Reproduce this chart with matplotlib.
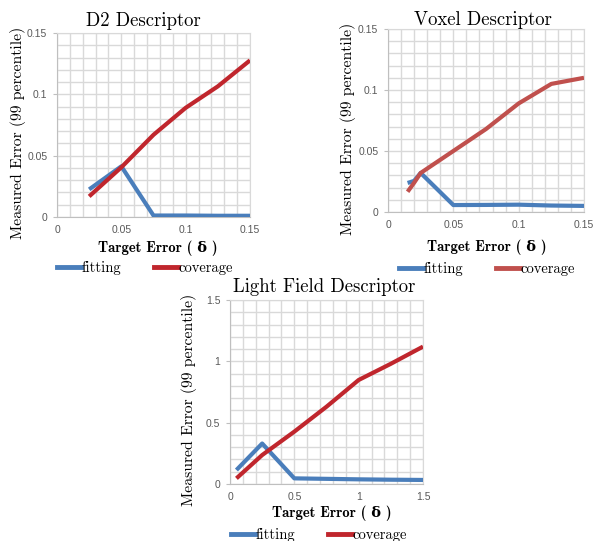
import matplotlib
matplotlib.use("Agg")
import matplotlib.pyplot as plt
from matplotlib.ticker import MultipleLocator, FuncFormatter
from matplotlib.lines import Line2D

plt.rcParams['axes.unicode_minus'] = False

# ---- data ----
d2_x = [0.025, 0.05, 0.075, 0.1, 0.125, 0.15]
d2_fitting = [0.0225, 0.0413, 0.0012, 0.0012, 0.001, 0.001]
d2_coverage = [0.0168, 0.0405, 0.067, 0.089, 0.1065, 0.1277]

vox_x = [0.015, 0.02, 0.025, 0.05, 0.075, 0.1, 0.125, 0.15]
vox_fitting = [0.0238, 0.0255, 0.032, 0.0057, 0.0058, 0.006, 0.0053, 0.005]
vox_coverage = [0.0166, 0.024, 0.032, 0.05, 0.068, 0.089, 0.105, 0.110]

lf_x = [0.05, 0.25, 0.5, 0.75, 1.0, 1.25, 1.5]
lf_fitting = [0.114, 0.33, 0.046, 0.042, 0.038, 0.035, 0.033]
lf_coverage = [0.046, 0.236, 0.427, 0.63, 0.848, 0.98, 1.12]

titles = ["D2 Descriptor", "Voxel Descriptor", "Light Field Descriptor"]
series_names = ["fitting", "coverage"]
y_label = "Measured Error (99 percentile)"
x_label = "Target Error ( δ )"

BLUE = "#4a7ebb"
RED_D2 = "#c0262d"
RED_VOX = "#c0504d"
GRID = "#d9d9d9"
TICKC = "#595959"

fig = plt.figure(figsize=(5.95, 5.41), dpi=100)

W, H = 595.0, 541.0
def rect(l, r, t, b):
    return [l / W, 1 - b / H, (r - l) / W, (b - t) / H]

def fmt(v, pos):
    return "%g" % round(v, 4)

def make(ax_rect, x, fit, cov, red, title, lim, major, minor,
         title_xy, ylab_xy, xlab_xy, leg_xy):
    ax = fig.add_axes(ax_rect)
    ax.plot(x, fit, color=BLUE, lw=3, solid_capstyle='butt', zorder=3)
    ax.plot(x, cov, color=red, lw=3, solid_capstyle='butt', zorder=3)
    ax.set_xlim(0, lim)
    ax.set_ylim(0, lim)
    for a in (ax.xaxis, ax.yaxis):
        a.set_major_locator(MultipleLocator(major))
        a.set_minor_locator(MultipleLocator(minor))
        a.set_major_formatter(FuncFormatter(fmt))
    ax.grid(True, which='both', color=GRID, lw=1.0, zorder=0)
    ax.set_axisbelow(True)
    ax.tick_params(axis='both', which='both', length=0, labelsize=7.5,
                   labelcolor=TICKC)
    ax.tick_params(axis='y', which='major', length=3, color="#bfbfbf", pad=4)
    ax.tick_params(axis='x', which='major', pad=6)
    for lab in ax.get_xticklabels() + ax.get_yticklabels():
        lab.set_family(["Liberation Sans"])
    for s in ax.spines.values():
        s.set_color(GRID)
    ax.spines['left'].set_color("#bfbfbf")
    ax.spines['bottom'].set_color("#bfbfbf")
    fig.text(title_xy[0] / W, 1 - title_xy[1] / H, title, family="cmr10",
             fontsize=13.5, ha='center', va='baseline')
    ax.set_ylabel(y_label, family=["cmr10", "DejaVu Serif"], fontsize=11.3)
    ax.yaxis.label.set_verticalalignment('center')
    ax.yaxis.set_label_coords(ylab_xy[0], ylab_xy[1])
    ax.set_xlabel(x_label, family=["cmb10", "DejaVu Serif"], fontsize=10.5,
                  fontweight='bold')
    ax.xaxis.label.set_verticalalignment('center')
    ax.xaxis.set_label_coords(xlab_xy[0], xlab_xy[1])
    handles = [Line2D([], [], color=BLUE, lw=3.5),
               Line2D([], [], color=red, lw=3.5)]
    fig.legend(handles, series_names, loc='center',
               bbox_to_anchor=(leg_xy[0] / W, 1 - leg_xy[1] / H),
               ncol=2, frameon=False, prop={'family': 'cmr10', 'size': 10.5},
               handlelength=1.6, handletextpad=0.05, columnspacing=2.3,
               borderpad=0, borderaxespad=0)
    return ax

make(rect(57, 250, 33, 217), d2_x, d2_fitting, d2_coverage, RED_D2, titles[0],
     0.15, 0.05, 0.01, (143, 26), (-0.202, 0.457), (0.523, -0.168), (145, 268))
make(rect(388, 584, 29, 212), vox_x, vox_fitting, vox_coverage, RED_VOX, titles[1],
     0.15, 0.05, 0.01, (483, 25), (-0.204, 0.454), (0.505, -0.191), (487, 269))
make(rect(230, 423, 300, 484), lf_x, lf_fitting, lf_coverage, RED_D2, titles[2],
     1.5, 0.5, 0.1, (324, 292), (-0.212, 0.457), (0.528, -0.158), (319, 535))

fig.savefig("out.png", dpi=100)
